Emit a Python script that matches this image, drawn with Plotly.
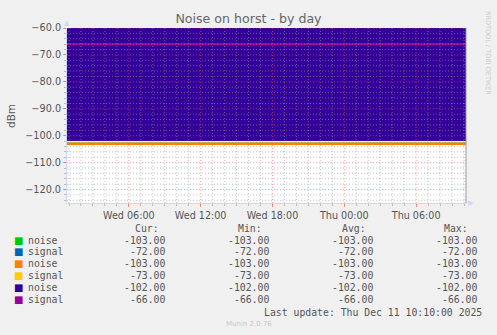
import plotly.graph_objects as go
import pandas as pd

# ---- data ----
times = ["2025-12-10 00:50", "2025-12-11 10:10"]
labels = ["noise", "signal", "noise", "signal", "noise", "signal"]
colors = ["#00CC00", "#0066B3", "#FF8000", "#FFCC00", "#330099", "#990099"]
values = [
    [-103, -103],
    [-72, -72],
    [-103, -103],
    [-73, -73],
    [-102, -102],
    [-66, -66],
]
cur = [-103.00, -72.00, -103.00, -73.00, -102.00, -66.00]
mins = [-103.00, -72.00, -103.00, -73.00, -102.00, -66.00]
avgs = [-103.00, -72.00, -103.00, -73.00, -102.00, -66.00]
maxs = [-103.00, -72.00, -103.00, -73.00, -102.00, -66.00]
x_tickvals = ["2025-12-10 06:00", "2025-12-10 12:00", "2025-12-10 18:00",
              "2025-12-11 00:00", "2025-12-11 06:00"]
x_ticktext = ["Wed 06:00", "Wed 12:00", "Wed 18:00", "Thu 00:00", "Thu 06:00"]
y_tickvals = [-120, -110, -100, -90, -80, -70, -60]
y_range = [-125, -60]
title = "Noise on horst - by day"
last_update = "Last update: Thu Dec 11 10:10:00 2025"

# ---- layout geometry ----
W, H = 497, 335
L, R, T, B = 67, 466, 28, 203
PW, PH = R - L, B - T


def px(x, y):
    return (x - L) / PW, (B - y) / PH


fig = go.Figure()
fill_idx = 4
for i, (lab, col, v) in enumerate(zip(labels, colors, values)):
    if i == fill_idx:
        fig.add_trace(go.Scatter(x=times, y=v, mode="lines", fill="tozeroy",
                                 fillcolor=col, line=dict(color=col, width=0),
                                 name=lab, showlegend=False))
    else:
        fig.add_trace(go.Scatter(x=times, y=v, mode="lines",
                                 line=dict(color=col, width=2.4),
                                 name=lab, showlegend=False))

font = "DejaVu Sans"
mono = "DejaVu Sans Mono"
txt = "#555555"

shapes = []
minor_col = "rgba(150,150,150,0.6)"
major_col = "rgba(235,90,90,0.6)"
dash = "1px,2px"
hours = pd.date_range("2025-12-10 01:00", "2025-12-11 10:00", freq="1h")
for h in hours:
    major = h.hour % 6 == 0
    shapes.append(dict(type="line", xref="x", yref="paper", x0=h, x1=h, y0=0, y1=1,
                       layer="above",
                       line=dict(color=major_col if major else minor_col, width=1, dash=dash)))
for yv in range(-124, -59, 2):
    major = yv % 10 == 0
    shapes.append(dict(type="line", xref="paper", yref="y", x0=0, x1=1, y0=yv, y1=yv,
                       layer="above",
                       line=dict(color=major_col if major else minor_col, width=1, dash=dash)))
# right frame line
shapes.append(dict(type="line", xref="paper", yref="paper", x0=1, x1=1, y0=0, y1=1,
                   layer="above", line=dict(color="#999999", width=1)))

ann = []


def add_text(x, y, text, size=9.8, color=txt, anchor="left", family=mono, angle=0):
    ax, ay = px(x, y)
    ann.append(dict(xref="paper", yref="paper", x=ax, y=ay, text=text, showarrow=False,
                    xanchor=anchor, yanchor="middle", textangle=angle, borderpad=0,
                    font=dict(family=family, size=size, color=color)))


# headers
add_text(160, 228.5, "Cur:", anchor="right")
add_text(263, 228.5, "Min:", anchor="right")
add_text(366.5, 228.5, "Avg:", anchor="right")
add_text(469, 228.5, "Max:", anchor="right")
row_y = [240.0, 251.9, 263.7, 275.6, 287.4, 299.3]
for i in range(len(labels)):
    y = row_y[i]
    add_text(13, y, "■", size=10, color=colors[i], family=font)
    add_text(26.5, y, labels[i])
    add_text(166, y, f"{cur[i]:.2f}", anchor="right")
    add_text(270, y, f"{mins[i]:.2f}", anchor="right")
    add_text(373.5, y, f"{avgs[i]:.2f}", anchor="right")
    add_text(477.5, y, f"{maxs[i]:.2f}", anchor="right")
add_text(483, 312.5, last_update, anchor="right")
add_text(248.5, 324, "Munin 2.0.76", size=7, color="#C8C8C8", anchor="center", family=font)
add_text(11, 116, "dBm", size=10.5, color=txt, anchor="center", family=font, angle=-90)
add_text(488, 53, "RRDTOOL / TOBI OETIKER", size=6.5, color="#CCCCCC", anchor="center",
         family=font, angle=90)
# axis arrows
add_text(67, 23, "▲", size=7, color="#CFD6F8", anchor="center", family=font)
add_text(470.5, 203, "▶", size=7, color="#CFD6F8", anchor="center", family=font)

fig.update_layout(
    width=W, height=H,
    margin=dict(l=L, r=W - R, t=T, b=H - B, pad=0),
    paper_bgcolor="#F0F0F0", plot_bgcolor="#FFFFFF",
    title=dict(text=title, x=0.5, xref="container", xanchor="center",
               y=1 - 19 / H, yref="container", yanchor="middle",
               font=dict(family=font, size=12.6, color="#666666")),
    shapes=shapes, annotations=ann,
    xaxis=dict(range=[times[0], times[1]], type="date", showgrid=False, zeroline=False,
               tickvals=x_tickvals, ticktext=x_ticktext, ticks="outside", ticklen=3,
               tickcolor=major_col, showline=True, linecolor="#CFD6F8", linewidth=1,
               tickfont=dict(family=font, size=9.6, color=txt),
               minor=dict(dtick=3600000, tick0="2025-12-10 00:00", ticks="outside",
                          ticklen=2, tickcolor=minor_col, showgrid=False)),
    yaxis=dict(range=y_range, showgrid=False, zeroline=False,
               tickvals=y_tickvals, tickformat=".1f", ticks="outside", ticklen=3,
               tickcolor=major_col, showline=True, linecolor="#CFD6F8", linewidth=1,
               tickfont=dict(family=font, size=9.7, color=txt),
               minor=dict(dtick=2, tick0=0, ticks="outside", ticklen=2,
                          tickcolor=minor_col, showgrid=False)),
)

fig.write_html("out.html")
